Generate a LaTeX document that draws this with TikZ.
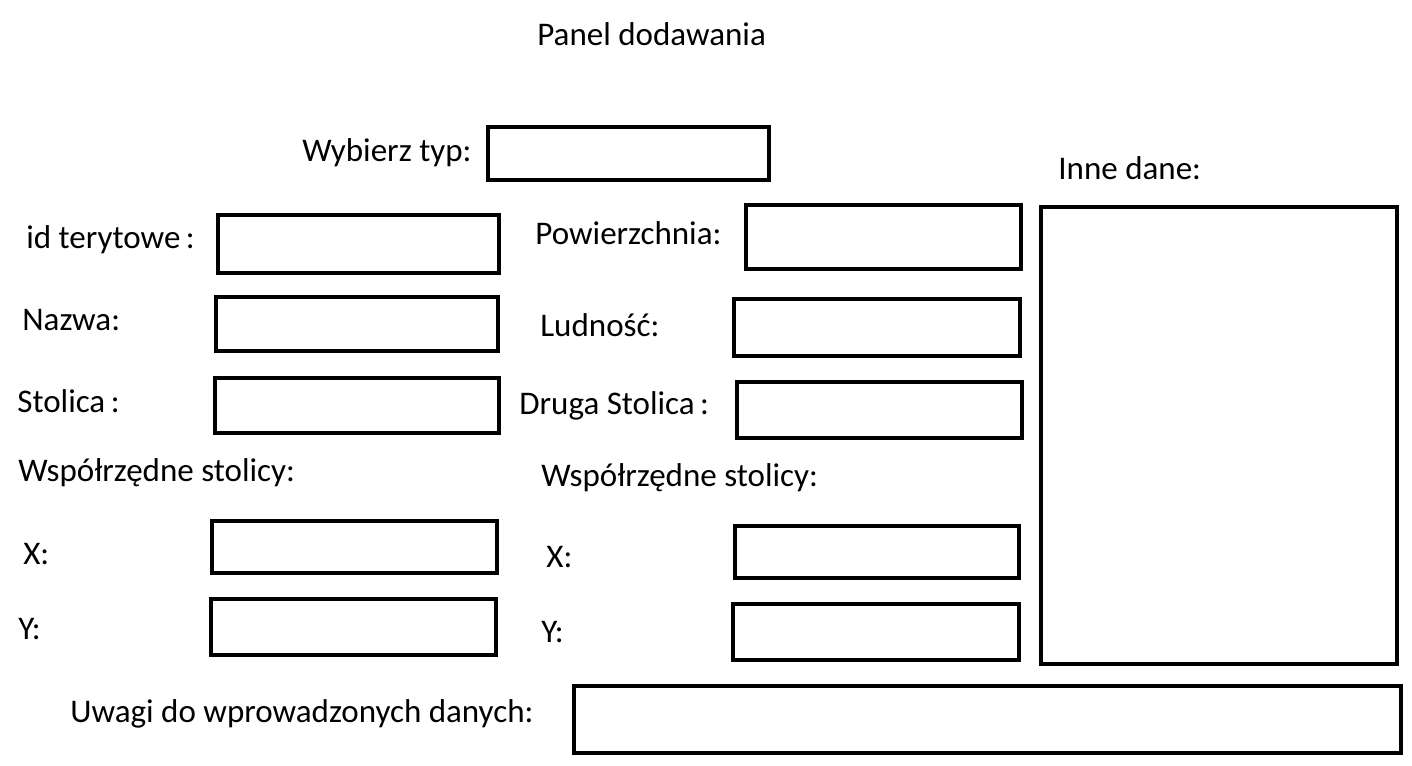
\documentclass[tikz,border=0pt]{standalone}
\usepackage{fontspec}
\setmainfont{Carlito}
\usetikzlibrary{positioning}

\tikzset{
  field/.style={draw, line width=2.8pt},
  lbl/.style={anchor=west, inner sep=0pt, font=\fontsize{18.8}{22}\selectfont}
}

\begin{document}
\begin{tikzpicture}[x=0.02cm, y=-0.02cm]
  \useasboundingbox (0,0) rectangle (1412,766);
  % pola formularza
  \foreach \n/\a/\b/\c/\d in {typ/488/127/769/180, inne/1041/207/1397/664,
      id/218/215/499/273, nazwa/216/297/498/351, stol/215/378/499/433,
      lx/212/521/497/573, ly/211/599/496/655,
      pow/746/205/1021/269, lud/734/299/1020/356, drst/737/382/1022/438,
      rx/735/526/1019/578, ry/733/604/1019/660, uwagi/574/686/1401/753}
    {\draw[field] (\a,\b) rectangle (\c,\d) coordinate (\n);}
  % etykiety
  \foreach \n/\x/\y/\t in {tytul/537/34/{Panel dodawania}, ltyp/302/153/{Wybierz typ:},
      linne/1058/168/{Inne dane:}, lid/26/240/{id terytowe\,:}, lnazwa/22/320/{Nazwa:},
      lstol/17/401/{Stolica\,:}, lpow/535/233/{Powierzchnia:}, llud/540/325/{Ludność:},
      ldrst/519/406/{Druga Stolica\,:}, lwsp/18/473/{Współrzędne stolicy:},
      rwsp/541/478/{Współrzędne stolicy:}, llx/23/554/{X:}, lly/18/629/{Y:},
      lrx/546/557/{X:}, lry/541/632/{Y:}, luwagi/70/714/{Uwagi do wprowadzonych danych:}}
    {\node[lbl] (\n) at (\x,\y) {\t};}
\end{tikzpicture}
\end{document}
